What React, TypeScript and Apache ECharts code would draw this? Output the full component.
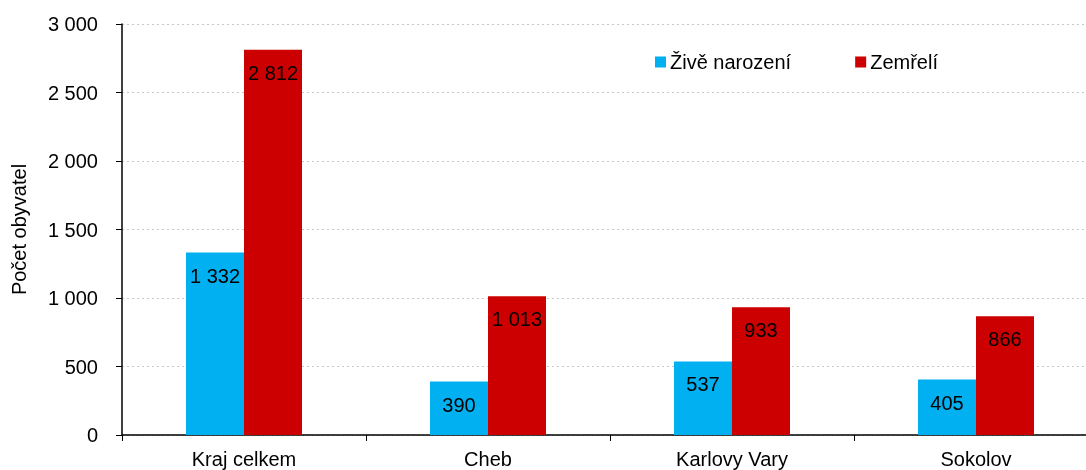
import React, { useEffect, useRef } from "react";
import * as echarts from "echarts";

const categories = ["Kraj celkem", "Cheb", "Karlovy Vary", "Sokolov"];
const liveBirths = [1332, 390, 537, 405];
const deaths = [2812, 1013, 933, 866];
const seriesNames = ["Živě narození", "Zemřelí"];

const fmt = (v: number) => String(v).replace(/\B(?=(\d{3})+(?!\d))/g, " ");

export default function App() {
  const ref = useRef<HTMLDivElement>(null);
  useEffect(() => {
    if (!ref.current) return;
    const chart = echarts.init(ref.current, null, { renderer: "svg" });
    const font = "'Liberation Sans', Arial, sans-serif";
    const FS = 20;
    const label = {
      show: true,
      position: "insideTop" as const,
      distance: 13,
      color: "#000",
      fontSize: FS,
      fontFamily: font,
      formatter: (p: any) => fmt(p.value),
    };
    chart.setOption({
      animation: false,
      textStyle: { fontFamily: font },
      legend: {
        left: 650,
        top: 47,
        itemWidth: 11,
        itemHeight: 11,
        itemGap: 64,
        icon: "rect",
        textStyle: { fontSize: FS, color: "#000", fontFamily: font, padding: [0, 0, 0, -1] },
        data: seriesNames,
      },
      grid: { left: 122, top: 24, width: 976, height: 411, containLabel: false, outerBoundsMode: "none" },
      xAxis: {
        type: "category",
        data: categories,
        axisLine: { lineStyle: { color: "#000", width: 1.5 } },
        axisTick: { show: true, length: 6, lineStyle: { color: "#000" } },
        axisLabel: { color: "#000", fontSize: FS, margin: 14, fontFamily: font },
      },
      yAxis: {
        type: "value",
        min: 0,
        max: 3000,
        interval: 500,
        name: "Počet obyvatel",
        nameLocation: "middle",
        nameGap: 93,
        nameTextStyle: { color: "#000", fontSize: FS, fontFamily: font },
        axisLine: { show: true, lineStyle: { color: "#000", width: 1.5 } },
        axisTick: { show: true, length: 6, lineStyle: { color: "#000" } },
        axisLabel: { color: "#000", fontSize: FS, margin: 24, fontFamily: font, formatter: (v: number) => fmt(v) },
        splitLine: { show: true, lineStyle: { color: "#c8c8c8", type: [2, 3] } },
      },
      series: [
        {
          name: seriesNames[0],
          type: "bar",
          data: liveBirths,
          barWidth: 58,
          barGap: "0%",
          itemStyle: { color: "#00B0F0" },
          label,
        },
        {
          name: seriesNames[1],
          type: "bar",
          data: deaths,
          barWidth: 58,
          barGap: "0%",
          itemStyle: { color: "#CC0000" },
          label,
        },
      ],
    });
    return () => chart.dispose();
  }, []);
  return <div ref={ref} style={{ position: "fixed", left: 0, top: 0, width: 1086, height: 470 }} />;
}
